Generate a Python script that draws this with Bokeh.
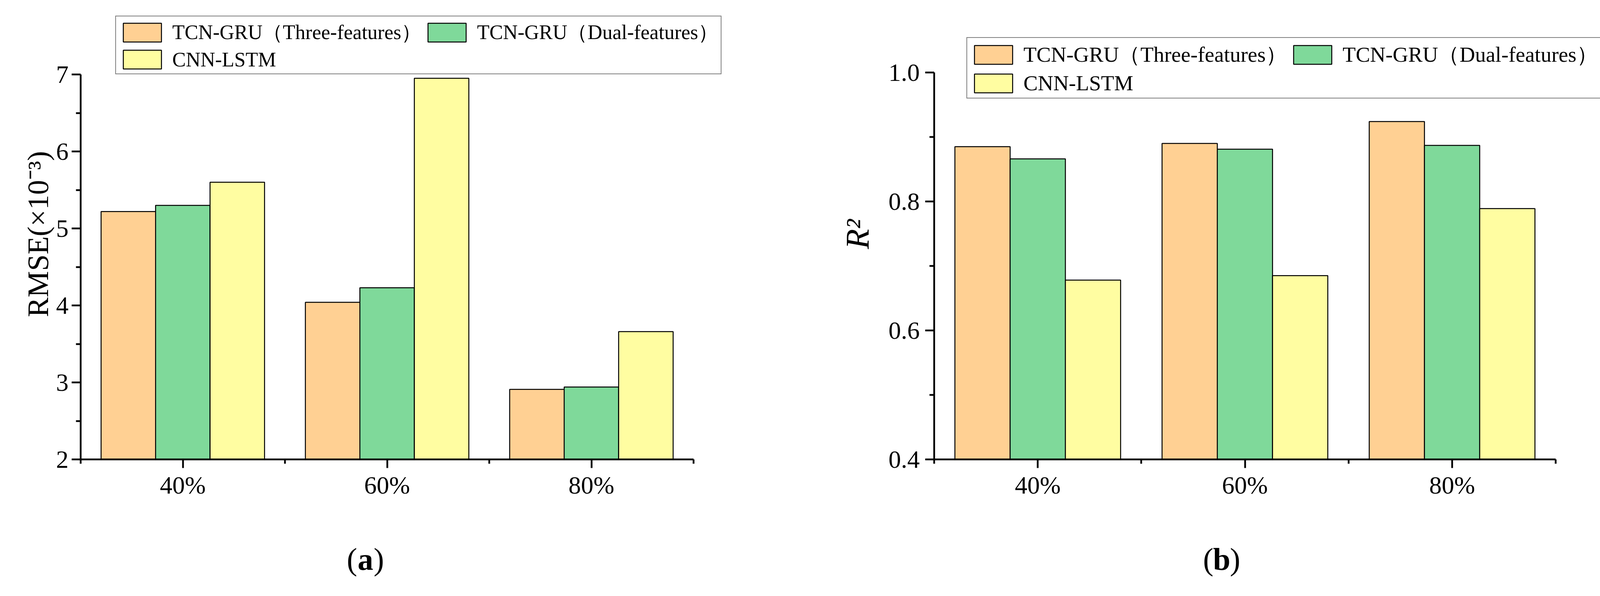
from bokeh.plotting import figure
from bokeh.models import (ColumnDataSource, FixedTicker, Legend, LegendItem, Label,
                          Range1d, PrintfTickFormatter, BasicTickFormatter)
from bokeh.layouts import row, column
from bokeh.transform import dodge
from bokeh.embed import file_html
from bokeh.resources import INLINE

# ---------------- data ----------------
categories = ["40%", "60%", "80%"]
series_names = ["TCN-GRU（Three-features）", "TCN-GRU（Dual-features）", "CNN-LSTM"]

rmse_three = [5.22, 4.04, 2.91]
rmse_dual = [5.30, 4.23, 2.94]
rmse_cnn = [5.60, 6.95, 3.66]

r2_three = [0.885, 0.890, 0.924]
r2_dual = [0.866, 0.881, 0.887]
r2_cnn = [0.678, 0.685, 0.789]

rmse_ticks = [2, 3, 4, 5, 6, 7]
rmse_minor_ticks = [2.5, 3.5, 4.5, 5.5, 6.5]
r2_ticks = [0.4, 0.6, 0.8, 1.0]
r2_minor_ticks = [0.5, 0.7, 0.9]

# ---------------- style / layout (pixels inside each figure) ----------------
COLORS = ["#FFD093", "#7FD99A", "#FFFDA1"]
FONT = "Liberation Serif"
BAR_W = 0.8 / 3
TOP_H = 1360
TAG_H = 140
FRAME_TOP = 22       # same for both panels (row aligns frames)
FRAME_BOTTOM = 1175


def make_panel(width, axis_left, axis_right, frame_right, axis_top, ylo, yhi, series,
               yticks, yminor, ylabel, ylabel_style, ylabel_size, ylabel_standoff,
               tick_standoff, yfmt, legend_loc, legend_font):
    # The frame reaches beyond the axes (up and to the right) so the legend can sit
    # there; the axes themselves are bounded to their data extents.
    nx = len(categories)
    x_end = 0.5 + nx * (frame_right - axis_left) / (axis_right - axis_left)
    y_end = ylo + (yhi - ylo) * (FRAME_BOTTOM - FRAME_TOP) / (FRAME_BOTTOM - axis_top)
    p = figure(width=width, height=TOP_H, x_range=Range1d(0.5, x_end),
               y_range=Range1d(ylo, y_end), output_backend="svg", toolbar_location=None,
               min_border_left=axis_left, min_border_right=width - frame_right,
               min_border_top=FRAME_TOP, min_border_bottom=TOP_H - FRAME_BOTTOM)
    p.xgrid.visible = False
    p.ygrid.visible = False
    p.outline_line_color = None
    p.background_fill_color = "white"
    p.border_fill_color = "white"

    src = ColumnDataSource(dict(x=list(range(1, nx + 1)),
                                s0=series[0], s1=series[1], s2=series[2]))
    renderers = []
    for i, key in enumerate(["s0", "s1", "s2"]):
        renderers.append(p.vbar(x=dodge("x", (i - 1) * BAR_W), top=key, bottom=ylo,
                                width=BAR_W, fill_color=COLORS[i], line_color="black",
                                line_width=2.5, source=src))

    legend = Legend(items=[LegendItem(label=n, renderers=[r]) for n, r in zip(series_names, renderers)],
                    location=legend_loc, orientation="horizontal", ncols=2,
                    glyph_width=122, glyph_height=60, label_height=60,
                    label_text_font=FONT, label_text_font_size=legend_font,
                    label_text_color="black",
                    label_standoff=16, padding=6, spacing=4, margin=0,
                    border_line_color="black", border_line_width=2,
                    background_fill_color="white", background_fill_alpha=1.0)
    p.add_layout(legend, "center")

    # x axis
    xa = p.xaxis[0]
    xa.bounds = (0.5, nx + 0.5)
    xa.ticker = FixedTicker(ticks=list(range(1, nx + 1)),
                            minor_ticks=[k + 0.5 for k in range(0, nx + 1)])
    xa.major_label_overrides = {i + 1: c for i, c in enumerate(categories)}
    xa.major_label_text_font = FONT
    xa.major_label_text_font_size = "64px"
    xa.major_label_text_color = "black"
    xa.major_label_standoff = 8
    xa.axis_line_width = 4.5
    xa.axis_line_color = "black"
    xa.major_tick_line_width = 4.5
    xa.minor_tick_line_width = 4.5
    xa.major_tick_line_color = "black"
    xa.minor_tick_line_color = "black"
    xa.major_tick_out = 22
    xa.major_tick_in = 0
    xa.minor_tick_out = 11
    xa.minor_tick_in = 0

    # y axis
    ya = p.yaxis[0]
    ya.bounds = (ylo, yhi)
    ya.ticker = FixedTicker(ticks=yticks, minor_ticks=yminor)
    ya.formatter = yfmt
    ya.major_label_text_font = FONT
    ya.major_label_text_font_size = "64px"
    ya.major_label_text_color = "black"
    ya.major_label_standoff = tick_standoff
    ya.axis_line_width = 4.5
    ya.axis_line_color = "black"
    ya.major_tick_line_width = 4.5
    ya.minor_tick_line_width = 4.5
    ya.major_tick_line_color = "black"
    ya.minor_tick_line_color = "black"
    ya.major_tick_out = 23
    ya.major_tick_in = 0
    ya.minor_tick_out = 12
    ya.minor_tick_in = 0
    ya.axis_label = ylabel
    ya.axis_label_text_font = FONT
    ya.axis_label_text_font_size = ylabel_size
    ya.axis_label_text_font_style = ylabel_style
    ya.axis_label_text_color = "black"
    ya.axis_label_standoff = ylabel_standoff
    return p


def make_tag(width, tag, tag_x):
    t = figure(width=width, height=TAG_H, x_range=Range1d(0, 1), y_range=Range1d(0, 1),
               output_backend="svg", toolbar_location=None,
               x_axis_location=None, y_axis_location=None,
               min_border_left=0, min_border_right=0, min_border_top=0, min_border_bottom=0)
    t.xgrid.visible = False
    t.ygrid.visible = False
    t.outline_line_color = None
    common = dict(x_units="screen", y_units="screen", y=TAG_H / 2, text_font=FONT,
                  text_font_size="80px", text_baseline="middle", text_color="black")
    t.add_layout(Label(x=tag_x - 21, text="(", text_align="right", **common))
    t.add_layout(Label(x=tag_x, text=tag, text_align="center", text_font_style="bold", **common))
    t.add_layout(Label(x=tag_x + 21, text=")", text_align="left", **common))
    return t


# left panel: axes at x 206..1775, top tick (7) at y 190; legend bottom-left at (89, 985)
pa = make_panel(2100, 206, 1775, 1960, 190, rmse_ticks[0], rmse_ticks[-1],
                [rmse_three, rmse_dual, rmse_cnn], rmse_ticks, rmse_minor_ticks,
                "RMSE(×10⁻³)", "normal", "76px", 2, 8, BasicTickFormatter(),
                (89, 985), "52px")
# right panel: axes at x 291..1882, top tick (1.0) at y 185; legend bottom-left at (83, 923)
pb = make_panel(2083, 291, 1882, 2083, 185, r2_ticks[0], r2_ticks[-1],
                [r2_three, r2_dual, r2_cnn], r2_ticks, r2_minor_ticks,
                "R²", "italic", "84px", 30, 14, PrintfTickFormatter(format="%.1f"),
                (83, 923), "55px")

ta = make_tag(2100, "a", 935)
tb = make_tag(2083, "b", 1027)

layout = column(row(pa, pb, spacing=0), row(ta, tb, spacing=0), spacing=0)
open("out.html", "w").write(file_html(layout, INLINE))
